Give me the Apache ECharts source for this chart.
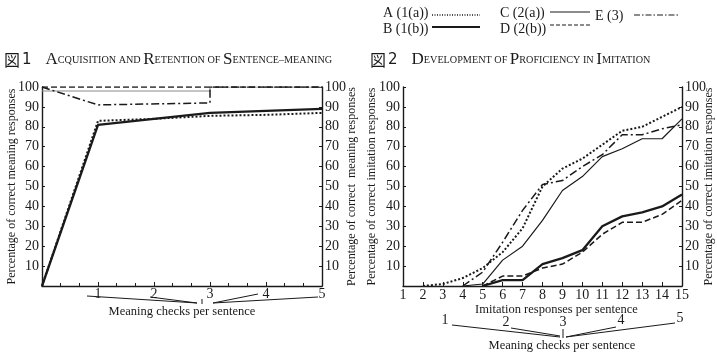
<!DOCTYPE html>
<html><head><meta charset="utf-8">
<script src="https://cdn.jsdelivr.net/npm/echarts@6/dist/echarts.min.js"></script>
<style>html,body{margin:0;padding:0;background:#fff}#c{width:717px;height:356px}</style>
</head><body><div id="c"></div>
<script>
// ---- Data ----
// Figure 1: meaning checks per sentence (x) vs % correct meaning responses
const f1A_x = [0, 1, 2, 3, 4, 5];
const f1A_y = [0, 83, 84, 85.5, 86, 87];
const f1B_x = [0, 1, 2, 3, 4, 5];
const f1B_y = [0, 81, 84, 87, 88, 89];
const f1C_x = [0, 3, 3, 5];
const f1C_y = [98, 98, 100, 100];
const f1D_x = [0, 5];
const f1D_y = [100, 100];
const f1E_x = [0, 1, 3, 3, 5];
const f1E_y = [100, 91, 92, 100, 100];
// Figure 2: imitation responses per sentence (1..15) vs % correct imitation responses
const f2X = [1, 2, 3, 4, 5, 6, 7, 8, 9, 10, 11, 12, 13, 14, 15];
const f2A = [null, 0, 1, 4, 9, 17, 29, 50, 59, 64, 71, 78, 80, 85, 90];
const f2B = [null, null, null, null, 0, 3, 3, 11, 14, 18, 30, 35, 37, 40, 46];
const f2C = [null, null, null, 0, 1, 13, 20, 33, 48, 55, 65, 69, 74, 74, 84];
const f2D = [null, null, null, null, 0, 5, 5, 9, 11, 17, 26, 32, 32, 36, 43];
const f2E = [null, null, null, 0, 7, 22, 38, 51, 53, 60, 66, 76, 76, 79, 81];
const meaningChecks = ['1', '2', '3', '4', '5'];
const legendNames = ['A (1(a))', 'B (1(b))', 'C (2(a))', 'D (2(b))', 'E (3)'];

// ---- Chart ----
const serif = '"Liberation Serif", "DejaVu Serif", serif';
const ink = '#1a1a1a';
const zip = (xs, ys) => xs.map((x, i) => [x, ys[i]]);
const styles = {
  A: {type: 'dotted', width: 2},
  B: {type: 'solid', width: 2.3},
  C: {type: 'solid', width: 1.2},
  D: {type: [6, 3], width: 1.5},
  E: {type: [8, 3, 2, 3], width: 1.5}
};
function ser(name, data, xi, yi, st, color) {
  return {name, type: 'line', xAxisIndex: xi, yAxisIndex: yi, data, symbol: 'none',
    connectNulls: false, silent: true, animation: false,
    lineStyle: {color: color || ink, width: st.width, type: st.type}};
}
function yAx(gi, pos, name, gap) {
  return {type: 'value', gridIndex: gi, position: pos, min: 0, max: 100, interval: 10,
    name, nameLocation: 'middle', nameGap: gap, nameRotate: 90, nameMoveOverlap: false,
    nameTextStyle: {fontFamily: serif, fontSize: 12, color: ink},
    axisLine: {show: true, lineStyle: {color: ink, width: 1.4}},
    axisTick: {show: true, inside: true, length: 3, lineStyle: {color: ink}},
    splitLine: {show: false},
    axisLabel: {fontFamily: serif, fontSize: 14, color: ink, margin: 3,
      formatter: v => v === 0 ? '' : String(v)}};
}
const xf = {fontFamily: serif, fontSize: 14, color: ink};
const option = {
  backgroundColor: '#fff',
  animation: false,
  grid: [
    {left: 42, top: 87, width: 280, height: 199},
    {left: 403, top: 87, width: 279, height: 199}
  ],
  xAxis: [
    {type: 'value', gridIndex: 0, min: 0, max: 5, interval: 1,
      name: 'Meaning checks per sentence', nameLocation: 'middle', nameGap: 19, nameMoveOverlap: false,
      nameTextStyle: {fontFamily: serif, fontSize: 12.5, color: ink},
      axisLine: {lineStyle: {color: ink, width: 1.4}},
      axisTick: {show: true, inside: true, length: 4, lineStyle: {color: ink}},
      minorTick: {show: true, splitNumber: 3, length: 3, lineStyle: {color: ink}},
      splitLine: {show: false},
      axisLabel: Object.assign({margin: 1, formatter: v => v === 0 ? '' : String(v)}, xf)},
    {type: 'value', gridIndex: 1, min: 1, max: 15, interval: 1,
      name: 'Imitation responses per sentence', nameLocation: 'middle', nameGap: 17, nameMoveOverlap: false,
      nameTextStyle: {fontFamily: serif, fontSize: 12.5, color: ink, padding: [0, 0, 0, 28]},
      axisLine: {lineStyle: {color: ink, width: 1.4}},
      axisTick: {show: true, inside: true, length: 4, lineStyle: {color: ink}},
      splitLine: {show: false},
      axisLabel: Object.assign({margin: 2}, xf)}
  ],
  yAxis: [
    yAx(0, 'left', 'Percentage of correct meaning responses', 24),
    yAx(0, 'right', 'Percentage of correct  meaning responses', 24),
    yAx(1, 'left', 'Percentage of correct imitation responses', 25),
    yAx(1, 'right', 'Percentage of correct imitation responses', 21)
  ],
  series: [
    ser('A1', zip(f1A_x, f1A_y), 0, 0, styles.A),
    ser('B1', zip(f1B_x, f1B_y), 0, 0, styles.B),
    ser('C1', zip(f1C_x, f1C_y), 0, 0, styles.C, '#8a8a8a'),
    ser('D1', zip(f1D_x, f1D_y), 0, 0, styles.D),
    ser('E1', zip(f1E_x, f1E_y), 0, 0, styles.E),
    ser('A2', zip(f2X, f2A), 1, 2, styles.A),
    ser('B2', zip(f2X, f2B), 1, 2, styles.B),
    ser('C2', zip(f2X, f2C), 1, 2, styles.C),
    ser('D2', zip(f2X, f2D), 1, 2, styles.D),
    ser('E2', zip(f2X, f2E), 1, 2, styles.E)
  ]
};

const chart = echarts.init(document.getElementById('c'), null, {renderer: 'canvas'});
chart.setOption(option);

// ---- Decorations: titles, legend, meaning-check brackets ----
const g = [];
function txt(x, y, text, size, align, extra) {
  g.push({type: 'text', x, y, silent: true, style: Object.assign({text, fontFamily: serif, fontSize: size,
    fill: ink, align: align || 'left', verticalAlign: 'middle'}, extra || {})});
}
function seg(x1, y1, x2, y2, st, w) {
  g.push({type: 'line', silent: true, shape: {x1, y1, x2, y2},
    style: {stroke: ink, lineWidth: w || 1, lineDash: st || null}});
}
const sc = {
  k: {fontFamily: '"Noto Sans CJK JP", sans-serif', fontSize: 16, fill: ink},
  n: {fontFamily: '"DejaVu Sans", sans-serif', fontSize: 15, fill: ink, padding: [0, 14, 0, 2]},
  b: {fontFamily: serif, fontSize: 17, fill: ink},
  s: {fontFamily: serif, fontSize: 10.2, fill: ink}
};
g.push({type: 'text', x: 4, y: 60, silent: true, style: {
  text: '{k|図}{n|1}{b|A}{s|CQUISITION AND }{b|R}{s|ETENTION OF }{b|S}{s|ENTENCE–MEANING}',
  rich: sc, verticalAlign: 'middle'}});
g.push({type: 'text', x: 370, y: 60, silent: true, style: {
  text: '{k|図}{n|2}{b|D}{s|EVELOPMENT OF }{b|P}{s|ROFICIENCY IN }{b|I}{s|MITATION}',
  rich: sc, verticalAlign: 'middle'}});

// legend
txt(383, 13, legendNames[0], 14); seg(432, 15, 480, 15, [1, 1.5], 1.6);
txt(383, 29, legendNames[1], 14); seg(432, 27, 480, 27, null, 1.8);
txt(500, 13, legendNames[2], 14); seg(550, 12, 590, 12, null, 1.1);
txt(500, 29, legendNames[3], 14); seg(550, 25, 590, 25, [4, 2], 1.1);
txt(595, 16, legendNames[4], 14); seg(634, 15, 680, 15, [6, 2, 1.5, 2], 1.1);

// figure 1 bracket lines under the x-axis labels
seg(87, 296, 197, 303); seg(150, 297, 197, 303);
seg(202, 299, 202, 304);
seg(213, 303, 258, 294); seg(213, 303, 318, 297);

// figure 2 secondary meaning-check scale
const mcX = [445, 506, 563, 621, 680];
const mcY = [320, 322, 322, 320, 318];
meaningChecks.forEach((t, i) => txt(mcX[i], mcY[i], t, 14, 'center'));
seg(452, 325, 560, 337); seg(511, 328, 560, 336);
seg(563, 329, 563, 338);
seg(566, 337, 616, 327); seg(566, 337, 675, 323);
txt(562, 346, 'Meaning checks per sentence', 12.5, 'center');

chart.setOption({graphic: {elements: g}});
</script>
</body></html>
